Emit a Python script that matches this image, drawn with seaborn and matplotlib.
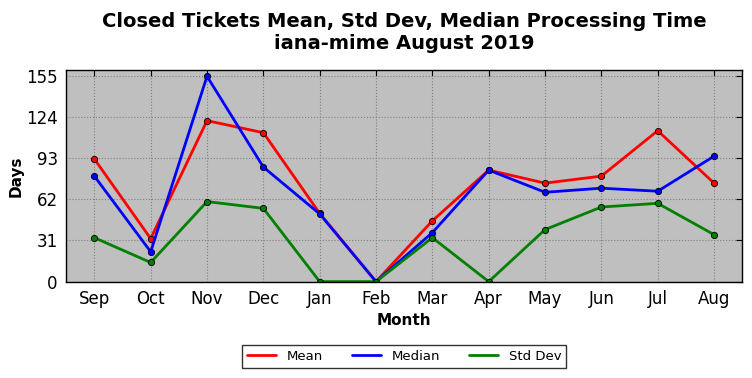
import seaborn as sns
import pandas as pd
import matplotlib.pyplot as plt

sns.set_style("white")
plt.rcParams['font.family'] = ['DejaVu Sans']
plt.rcParams['text.color'] = 'black'
plt.rcParams['axes.labelcolor'] = 'black'
plt.rcParams['xtick.color'] = 'black'
plt.rcParams['ytick.color'] = 'black'

months = ['Sep', 'Oct', 'Nov', 'Dec', 'Jan', 'Feb', 'Mar', 'Apr', 'May', 'Jun', 'Jul', 'Aug']
mean = [92.4, 32.4, 121.3, 112.2, 51.4, 0, 45.8, 84.0, 74.2, 79.5, 113.7, 74.2]
median = [79.5, 22.5, 154.7, 86.3, 51.0, 0, 36.9, 84.0, 67.3, 70.4, 68.1, 94.5]
std_dev = [33.1, 14.4, 60.3, 55.2, 0, 0, 33.1, 0, 39.2, 56.2, 59.0, 35.4]
yticks = [0, 31, 62, 93, 124, 155]

df = pd.DataFrame({'pos': range(len(months)), 'Mean': mean, 'Median': median, 'Std Dev': std_dev})
df = df.melt(id_vars='pos', var_name='stat', value_name='days')

fig, ax = plt.subplots(figsize=(7.52, 3.78), dpi=100)
ax.set_facecolor('#bfbfbf')
sns.lineplot(data=df, x='pos', y='days', hue='stat',
             palette={'Mean': 'red', 'Median': 'blue', 'Std Dev': 'green'},
             linewidth=2, marker='o', markersize=4.5, markeredgecolor='black',
             markeredgewidth=0.6, ax=ax)

ax.set_xlim(-0.5, 11.5)
ax.set_ylim(0, 159.5)
ax.set_xticks(range(len(months)))
ax.set_xticklabels(months, fontsize=12)
ax.set_yticks(yticks)
ax.set_yticklabels([str(t) for t in yticks], fontsize=12)
ax.tick_params(direction='in', length=4, top=True, right=True, pad=6)
ax.grid(True, color='#808080', linestyle=':', linewidth=0.8)
for s in ax.spines.values():
    s.set_color('black')
    s.set_linewidth(1)

ax.set_xlabel('Month', fontsize=11, fontweight='bold')
ax.set_ylabel('Days', fontsize=11, fontweight='bold', labelpad=2)
ax.set_title('Closed Tickets Mean, Std Dev, Median Processing Time\niana-mime August 2019',
             fontsize=14, fontweight='bold', pad=15)

handles, labels = ax.get_legend_handles_labels()
for h in handles:
    h.set_marker('')
leg = ax.legend(handles, labels, loc='upper center', bbox_to_anchor=(0.5, -0.27),
                ncol=3, fancybox=False, frameon=True, fontsize=9.5,
                columnspacing=2.2, handlelength=2.2, borderpad=0.35)
leg.get_frame().set_edgecolor('black')

plt.subplots_adjust(left=0.088, right=0.987, top=0.815, bottom=0.255)
plt.savefig('out.png', dpi=100)
